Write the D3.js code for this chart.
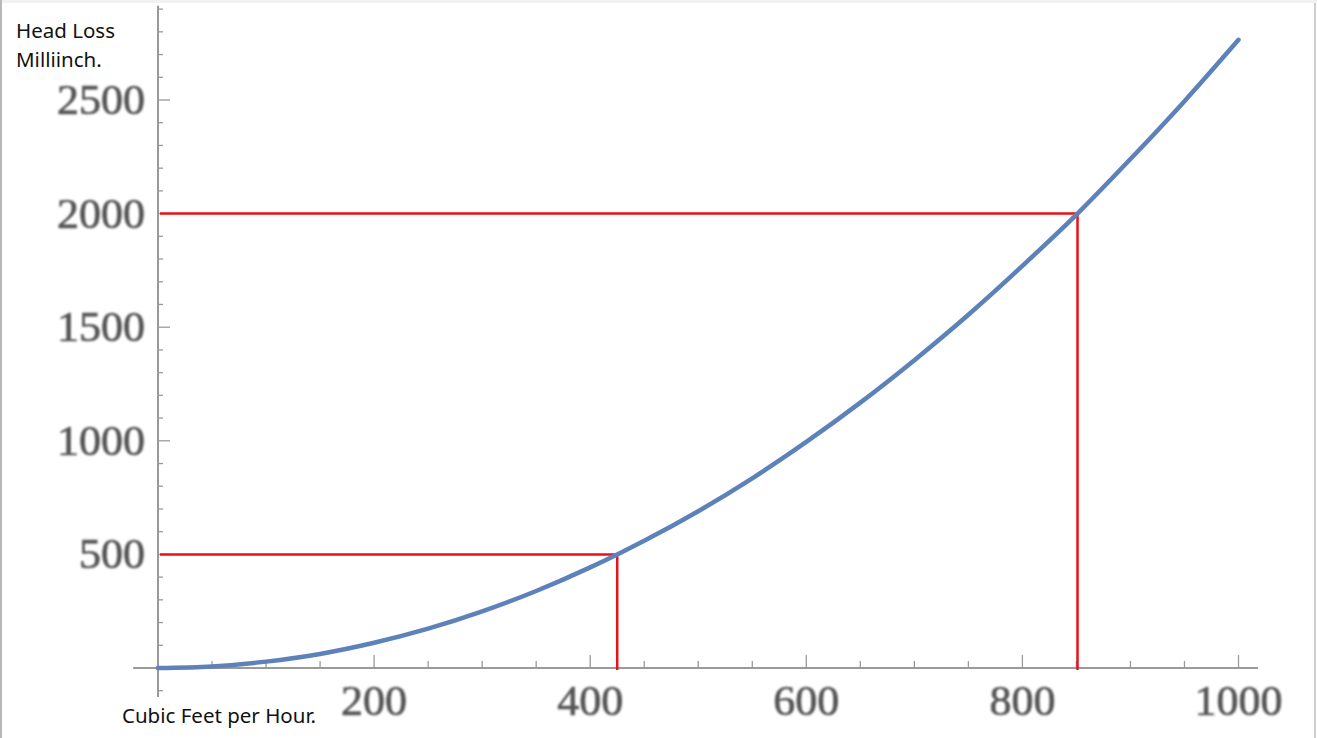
<!DOCTYPE html>
<html>
<head>
<meta charset="utf-8">
<script src="https://cdn.jsdelivr.net/npm/d3@7"></script>
<style>
  html, body { margin: 0; padding: 0; background: #fff; }
  svg { display: block; }
</style>
</head>
<body>
<div id="chart"></div>
<script>
// Flow (cubic feet per hour) and head loss (milliinch)
const flow = [0, 50, 100, 150, 200, 250, 300, 350, 400, 425, 450, 500, 550, 600, 650, 700, 750, 800, 851, 900, 950, 1000];
const headLoss = [0, 7, 28, 62, 111, 173, 249, 339, 443, 500, 560, 690, 835, 995, 1168, 1355, 1555, 1770, 2000, 2240, 2495, 2765];

// reference markers: [flow, head loss]
const markers = [[425, 500], [851, 2000]];

const xTicks = [200, 400, 600, 800, 1000];
const yTicks = [500, 1000, 1500, 2000, 2500];

const width = 1317, height = 738;

const svg = d3.select("#chart")
  .append("svg")
  .attr("width", width)
  .attr("height", height);

// frame like the screenshot
svg.append("rect").attr("x", 0).attr("y", 0).attr("width", width).attr("height", 3).attr("fill", "#f1f1f1");
svg.append("rect").attr("x", 0).attr("y", 0).attr("width", 2).attr("height", height).attr("fill", "#b8b8b8");
svg.append("rect").attr("x", 1314).attr("y", 3).attr("width", 2).attr("height", height).attr("fill", "#cfcfcf");

const x = d3.scaleLinear().domain([0, 1000]).range([158, 1238.5]);
const y = d3.scaleLinear().domain([0, 2500]).range([668, 100]);

const axisColor = "#9a9a9a";
const defs = svg.append("defs");
defs.append("filter").attr("id", "soft")
  .append("feGaussianBlur").attr("stdDeviation", 0.7);
defs.append("filter").attr("id", "softer")
  .append("feGaussianBlur").attr("stdDeviation", 0.9);

// tick label width per digit, the reference digits are a bit wide
const digitW = 22;

// x axis line + ticks
const gx = svg.append("g");
gx.append("line")
  .attr("x1", x(-23)).attr("x2", x(1018))
  .attr("y1", y(0)).attr("y2", y(0))
  .attr("stroke", axisColor).attr("stroke-width", 2);
d3.range(50, 1001, 50).forEach(v => {
  const major = v % 200 === 0;
  gx.append("line")
    .attr("x1", x(v)).attr("x2", x(v))
    .attr("y1", y(0)).attr("y2", y(0) - (major ? 13 : 7))
    .attr("stroke", axisColor).attr("stroke-width", 1.3);
});
gx.selectAll("text.tick").data(xTicks).enter().append("text")
  .attr("x", d => x(d) - String(d).length * digitW / 2)
  .attr("y", 715)
  .attr("textLength", d => String(d).length * digitW)
  .attr("lengthAdjust", "spacingAndGlyphs")
  .attr("font-family", "Liberation Serif, serif")
  .attr("font-size", 42)
  .attr("fill", "#555")
  .attr("stroke", "#555")
  .attr("stroke-width", 0.7)
  .attr("filter", "url(#softer)")
  .text(d => d);

// y axis line + ticks
const gy = svg.append("g");
gy.append("line")
  .attr("x1", x(0)).attr("x2", x(0))
  .attr("y1", y(2915)).attr("y2", y(-128))
  .attr("stroke", axisColor).attr("stroke-width", 2);
d3.range(-100, 2901, 100).forEach(v => {
  if (v === 0) return;
  const major = v % 500 === 0;
  gy.append("line")
    .attr("x1", x(0)).attr("x2", x(0) + (major ? 12 : 5))
    .attr("y1", y(v)).attr("y2", y(v))
    .attr("stroke", axisColor).attr("stroke-width", 1.3);
});
gy.selectAll("text.tick").data(yTicks).enter().append("text")
  .attr("x", d => 145 - String(d).length * digitW)
  .attr("y", d => y(d) + 14)
  .attr("textLength", d => String(d).length * digitW)
  .attr("lengthAdjust", "spacingAndGlyphs")
  .attr("font-family", "Liberation Serif, serif")
  .attr("font-size", 42)
  .attr("fill", "#555")
  .attr("stroke", "#555")
  .attr("stroke-width", 0.7)
  .attr("filter", "url(#softer)")
  .text(d => d);

// red guide lines
markers.forEach(([q, h]) => {
  svg.append("path")
    .attr("d", `M${x(0) + 2},${y(h)}H${x(q)}V${y(0) + 2}`)
    .attr("fill", "none")
    .attr("stroke", "#e8121a")
    .attr("stroke-width", 2.5);
});

// curve
const line = d3.line()
  .x((d, i) => x(flow[i]))
  .y(d => y(d))
  .curve(d3.curveMonotoneX);

svg.append("path")
  .datum(headLoss)
  .attr("d", line)
  .attr("fill", "none")
  .attr("stroke", "#5b82b9")
  .attr("stroke-width", 4.5)
  .attr("stroke-linecap", "round")
  .attr("filter", "url(#soft)");

// axis titles
const sans = "Segoe UI, Noto Sans, Open Sans, sans-serif";
const titleSize = 20.5;
svg.append("text").attr("x", 16).attr("y", 38)
  .attr("font-family", sans).attr("font-size", titleSize).attr("fill", "#111")
  .text("Head Loss");
svg.append("text").attr("x", 16).attr("y", 67)
  .attr("font-family", sans).attr("font-size", titleSize).attr("fill", "#111")
  .text("Milliinch.");
svg.append("text").attr("x", 122).attr("y", 723)
  .attr("font-family", sans).attr("font-size", titleSize).attr("fill", "#111")
  .text("Cubic Feet per Hour.");
</script>
</body>
</html>
